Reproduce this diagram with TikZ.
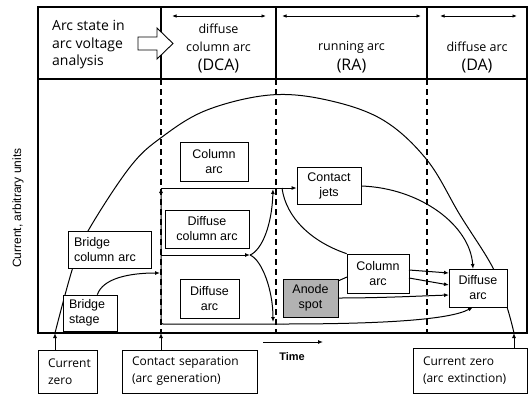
\documentclass[tikz,border=0pt]{standalone}
\usepackage{fontspec}
\setmainfont{Liberation Sans}
\newfontfamily\hdrfont{Open Sans}
\usetikzlibrary{arrows.meta,calc}
\begin{document}
\begin{tikzpicture}[x=1pt,y=-1pt,
  bx/.style={draw, line width=0.7pt, fill=white, inner sep=0pt, align=center,
     font=\fontsize{12.5}{15}\selectfont},
  lbx/.style={bx, align=left, inner xsep=6pt, text width=#1},
  bbx/.style={draw, line width=1pt, fill=white, inner ysep=0pt, inner xsep=10pt,
     align=left, text width=#1, font=\hdrfont\fontsize{12}{17}\selectfont},
  cn/.style={line width=1pt},
  tip/.style={-{Latex[length=5pt,width=4pt]}},
  dtip/.style={{Latex[length=4.5pt,width=3.5pt]}-{Latex[length=4.5pt,width=3.5pt]}, line width=1pt},
  dsh/.style={line width=1.3pt, dash pattern=on 6pt off 4pt},
  hsmall/.style={font=\hdrfont\fontsize{12.5}{15}\selectfont, inner sep=0pt},
  hbig/.style={font=\hdrfont\fontsize{16}{18}\selectfont, inner sep=0pt}
]
\useasboundingbox (0,0) rectangle (530,394);

% frame
\draw[line width=1.3pt] (38,7) rectangle (527,333);
\draw[line width=1.3pt] (38,79) -- (527,79);
\draw[line width=1.5pt] (161,7) -- (161,79);
\draw[line width=1.3pt] (276,7) -- (276,79);
\draw[line width=1.3pt] (427,7) -- (427,79);
\draw[dsh] (161,79) -- (161,333);
\draw[dsh] (276,79) -- (276,333);
\draw[dsh] (427,79) -- (427,333);

% header
\node[anchor=west, align=left, inner sep=0pt, font=\hdrfont\fontsize{14}{17.5}\selectfont] (hdr) at (52,45) {Arc state in\\arc voltage\\analysis};
\draw[line width=0.9pt, fill=white] (138,37) -- (157,37) -- (157,28) -- (173,43.5) -- (157,59) -- (157,50) -- (138,50) -- cycle;
\coordinate (a1) at (172,16); \coordinate (a2) at (266,16);
\coordinate (b1) at (282,16); \coordinate (b2) at (421,16);
\coordinate (c1) at (440,16); \coordinate (c2) at (517,16);
\draw[dtip] (a1) -- (a2);
\draw[dtip] (b1) -- (b2);
\draw[dtip] (c1) -- (c2);
\node[hsmall] (t1) at (218.5,29) {diffuse};
\node[hsmall] (t2) at (218.5,47) {column arc};
\node[hbig] (t3) at (218.5,66) {(DCA)};
\node[hsmall] (t4) at (351.5,47) {running arc};
\node[hbig] (t5) at (351.5,66) {(RA)};
\node[hsmall] (t6) at (477,47) {diffuse arc};
\node[hbig] (t7) at (477,66) {(DA)};

% axis label
\node[rotate=90, inner sep=0pt, font=\fontsize{12}{14}\selectfont] (ylab) at (18,208) {Current, arbitrary units};

% big current curve
\draw[cn] plot[smooth, tension=0.6] coordinates {(55,333) (73,267) (88,231) (130,167) (162,137) (207,110) (270,95) (327,100) (383,120) (427,160) (460,215) (493,268) (507,307) (514,333)};

% junction coordinates
\coordinate (J1) at (161,188);
\coordinate (J2) at (161,255);
\coordinate (J3) at (161,324);
\coordinate (J4) at (160,273);
\coordinate (F) at (250,255);
\coordinate (K1) at (273,189);
\coordinate (K2) at (273,322);
\coordinate (A1) at (283,324);
\coordinate (S1) at (282,188);

% boxes
\node[bx, minimum width=68pt, minimum height=39pt] (colA) at (214,161.5) {Column\\arc};
\node[bx, minimum width=84pt, minimum height=38pt] (dca) at (207,229) {Diffuse\\column arc};
\node[lbx=71pt, minimum height=37pt] (bca) at (109.5,249.5) {Bridge\\column arc};
\node[bx, minimum width=59pt, minimum height=39pt] (da1) at (209.5,298.5) {Diffuse\\arc};
\node[lbx=42pt, minimum height=36pt] (bst) at (90,313) {Bridge\\stage};
\node[bx, minimum width=64pt, minimum height=37pt] (cj) at (329,186) {Contact\\jets};
\node[bx, minimum width=62pt, minimum height=39pt] (colB) at (378,273.5) {Column\\arc};
\node[bx, minimum width=55pt, minimum height=38pt, fill=gray!60, line width=1pt] (as) at (310.5,298) {Anode\\spot};
\node[bx, minimum width=58pt, minimum height=38pt] (da2) at (478,288) {Diffuse\\arc};

% connectors
\draw[cn, tip] (bst.north east) ++(-20,0) coordinate (bs1) .. controls (103,278) and (130,273) .. (J4);
\draw[cn, tip, rounded corners=2pt] (A1) -- (J3) -- (J1);
\draw[cn, tip] (J1) -- (J1 -| cj.west);
\draw[cn, tip] (J2) -- (F);
\draw[cn, tip] (F) .. controls (262,250) and (272,225) .. (K1);
\draw[cn, tip] (F) .. controls (262,260) and (273,290) .. (K2);
\draw[cn] (S1) .. controls (286,218) and (312,242) .. (colB.north west);
\draw[cn, tip] (A1) .. controls (380,324) and (450,320) .. (473,307);
\draw[cn, tip] (cj.east) .. controls (420,188) and (470,225) .. (473,269);
\draw[cn, tip] (409,270) -- (449,273);
\draw[cn, tip] (409,278) -- (449,285);
\draw[cn, tip] (as.east) ++(0,0) .. controls (380,298) and (420,296) .. (449,295);
\draw[cn] (338,281) -- (347,277);

% bottom boxes
\node[bbx=39pt, minimum height=43pt] (cz) at (67.5,371.5) {Current\\zero};
\node[bbx=115pt, minimum height=43pt] (cs) at (189.5,371.5) {Contact separation\\(arc generation)};
\node[bbx=94pt, minimum height=45pt] (ce) at (470,370.5) {Current zero\\(arc extinction)};
\coordinate (u1) at (55,333); \coordinate (u2) at (161,333); \coordinate (u3) at (514,333);
\draw[cn, tip] (u1 |- cz.north) -- (u1);
\draw[cn, tip] (u2 |- cs.north) -- (u2);
\draw[cn, tip] (u3 |- ce.north) -- (u3);

% time
\coordinate (tm1) at (263,342); \coordinate (tm2) at (323,342);
\draw[cn, tip] (tm1) -- (tm2);
\node[font=\bfseries\fontsize{11}{13}\selectfont, inner sep=0pt] (time) at (292,357) {Time};
\end{tikzpicture}
\end{document}
